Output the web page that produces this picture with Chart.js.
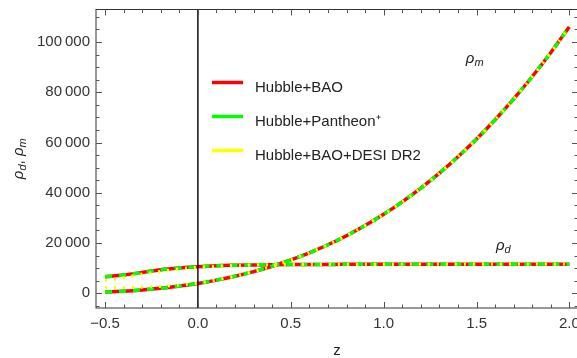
<!DOCTYPE html>
<html><head><meta charset="utf-8">
<script src="https://cdn.jsdelivr.net/npm/chart.js@4/dist/chart.umd.min.js"></script>
<style>html,body{margin:0;padding:0;background:#fff;overflow:hidden;width:577px;height:358px}canvas{display:block}</style>
</head><body>
<canvas id="c" width="580" height="358"></canvas>
<script>
// ---- data ----
const zValues = [-0.5,-0.4,-0.3,-0.2,-0.1,0.0,0.1,0.2,0.3,0.4,0.5,0.6,0.7,0.8,0.9,1.0,1.1,1.2,1.3,1.4,1.5,1.6,1.7,1.8,1.9,2.0];
const rhoM_HubbleBAO = [490,850,1350,2010,2870,3930,5230,6790,8630,10780,13260,16100,19310,22920,26960,31440,36400,41850,47820,54330,61410,69070,77350,86270,95850,106110];
const rhoD_HubbleBAO = [6600,7300,8300,9400,10100,10600,10950,11150,11300,11400,11450,11480,11500,11520,11530,11540,11550,11560,11570,11570,11580,11580,11590,11590,11600,11600];
const rhoM_HubblePantheon = [490,850,1350,2010,2870,3930,5230,6790,8630,10780,13260,16100,19310,22920,26960,31440,36400,41850,47820,54330,61410,69070,77350,86270,95850,106110];
const rhoD_HubblePantheon = [6600,7300,8300,9400,10100,10600,10950,11150,11300,11400,11450,11480,11500,11520,11530,11540,11550,11560,11570,11570,11580,11580,11590,11590,11600,11600];
const rhoM_HubbleBAODESI = [2300,2350,2500,2800,3300,4050,5300,6800,8630,10780,13260,16100,19310,22920,26960,31440,36400,41850,47820,54330,61410,69070,77350,86270,95850,106110];
const rhoD_HubbleBAODESI = [4900,6200,7600,8700,9700,10300,10750,11050,11250,11380,11450,11480,11500,11520,11530,11540,11550,11560,11570,11570,11580,11580,11590,11590,11600,11600];
const seriesLabels = ['Hubble+BAO','Hubble+Pantheon\u207A','Hubble+BAO+DESI DR2'];
const seriesColors = ['#ff0000','#00ff00','#ffff00'];
const xTickValues = [-0.5,0.0,0.5,1.0,1.5,2.0];
const yTickValues = [0,20000,40000,60000,80000,100000];
const xTitle = 'z';
const curveLabels = [{name:'m', z:1.442, v:91640},{name:'d', z:1.604, v:17230}];

const FONT = "'Liberation Sans', Arial, sans-serif";
const pts = arr => zValues.map((z,i)=>({x:z, y:arr[i]}));

function fmtX(v){ return v.toFixed(1).replace('-', '\u2212'); }
function fmtY(v){ return String(v).replace(/\B(?=(\d{3})+(?!\d))/g, '\u2009'); }

const baseDs = {pointRadius:0, fill:false, cubicInterpolationMode:'monotone', borderCapStyle:'butt'};
const datasets = [];
[[rhoM_HubbleBAO,rhoD_HubbleBAO],[rhoM_HubblePantheon,rhoD_HubblePantheon],[rhoM_HubbleBAODESI,rhoD_HubbleBAODESI]].forEach((pair,k)=>{
  pair.forEach(arr=>{
    const ds = Object.assign({}, baseDs, {label:seriesLabels[k], data:pts(arr), borderColor:seriesColors[k], order:3-k});
    if(k===0){ ds.borderWidth=3.5; }
    if(k===1){ ds.borderWidth=3.5; ds.borderDash=[7,7]; }
    if(k===2){ ds.borderWidth=3.2; ds.borderDash=[2,7]; }
    datasets.push(ds);
  });
});

const framePlugin = {
  id:'frame',
  afterDatasetsDraw(chart){
    const {ctx, chartArea:a, scales:{x}} = chart;
    ctx.save();
    const x0 = x.getPixelForValue(0);
    ctx.strokeStyle='#000'; ctx.lineWidth=1.4;
    ctx.beginPath(); ctx.moveTo(x0,a.top); ctx.lineTo(x0,a.bottom); ctx.stroke();
    ctx.restore();
  },
  afterDraw(chart){
    const {ctx, chartArea:a, scales:{x,y}} = chart;
    ctx.save();
    ctx.strokeStyle='#333'; ctx.lineWidth=1;
    ctx.strokeRect(a.left, a.top, a.right-a.left, a.bottom-a.top);
    ctx.strokeStyle='#555';
    const tick=(x1,y1,x2,y2)=>{ctx.beginPath();ctx.moveTo(x1,y1);ctx.lineTo(x2,y2);ctx.stroke();};
    for(let i=-5;i<=20;i++){
      const px = Math.round(x.getPixelForValue(i/10))+0.5;
      const L = (i%5===0)?6:3.5;
      tick(px,a.bottom,px,a.bottom-L); tick(px,a.top,px,a.top+L);
    }
    for(let i=-1;i<=22;i++){
      const v=i*5000; if(v<y.min||v>y.max) continue;
      const py = Math.round(y.getPixelForValue(v))+0.5;
      const L = (i%4===0)?6:3.5;
      tick(a.left,py,a.left+L,py); tick(a.right,py,a.right-L,py);
    }
    // legend
    const rows=[82.5,116.5,150.5];
    rows.forEach((ry,k)=>{
      ctx.strokeStyle=seriesColors[k]; ctx.lineWidth=3.5; ctx.setLineDash([]);
      tick(212,ry,243,ry);
      ctx.fillStyle='#222'; ctx.font='15px '+FONT; ctx.textBaseline='alphabetic'; ctx.textAlign='left';
      ctx.fillText(seriesLabels[k],255,ry+9.5);
    });
    // curve annotations
    curveLabels.forEach(c=>{
      const px=x.getPixelForValue(c.z), py=y.getPixelForValue(c.v);
      ctx.fillStyle='#222'; ctx.textAlign='left';
      ctx.font='italic 15px '+FONT; ctx.fillText('\u03C1',px,py);
      const w=ctx.measureText('\u03C1').width;
      ctx.font='italic 11px '+FONT; ctx.fillText(c.name,px+w,py+3);
    });
    // y axis title (rotated, with subscripts)
    ctx.translate(23, (a.top+a.bottom)/2);
    ctx.rotate(-Math.PI/2);
    const parts=[['\u03C1','italic 15px',0],['d','italic 11px',3],[', ','15px',0],['\u03C1','italic 15px',0],['m','italic 11px',3]];
    let tw=0; parts.forEach(p=>{ctx.font=p[1]+' '+FONT; tw+=ctx.measureText(p[0]).width;});
    let cx=-tw/2;
    ctx.fillStyle='#222'; ctx.textAlign='left';
    parts.forEach(p=>{ctx.font=p[1]+' '+FONT; ctx.fillText(p[0],cx,p[2]); cx+=ctx.measureText(p[0]).width;});
    ctx.restore();
  }
};

new Chart(document.getElementById('c'), {
  type:'line',
  data:{datasets},
  plugins:[framePlugin],
  options:{
    responsive:false, animation:false, devicePixelRatio:1,
    layout:{padding:{left:0,right:2,top:9.5,bottom:0}},
    plugins:{legend:{display:false}, tooltip:{enabled:false}},
    scales:{
      x:{type:'linear', min:-0.5485, max:2.046,
        afterBuildTicks:s=>{s.ticks=xTickValues.map(v=>({value:v}));},
        afterFit:s=>{s.height=50; s.paddingLeft=0; s.paddingRight=0;},
        grid:{display:false, drawTicks:false}, border:{display:false},
        ticks:{padding:7, color:'#333', font:{family:FONT, size:15}, maxRotation:0, autoSkip:false, callback:v=>fmtX(v)},
        title:{display:true, text:xTitle, color:'#222', font:{family:FONT, size:15}, padding:{top:0,bottom:-2}}
      },
      y:{type:'linear', min:-5850, max:112935,
        afterBuildTicks:s=>{s.ticks=yTickValues.map(v=>({value:v}));},
        afterFit:s=>{s.width=96; s.paddingTop=0; s.paddingBottom=0;},
        grid:{display:false, drawTicks:false}, border:{display:false},
        ticks:{padding:6, color:'#333', font:{family:FONT, size:15}, autoSkip:false, callback:v=>fmtY(v)}
      }
    }
  }
});
</script>
</body></html>
